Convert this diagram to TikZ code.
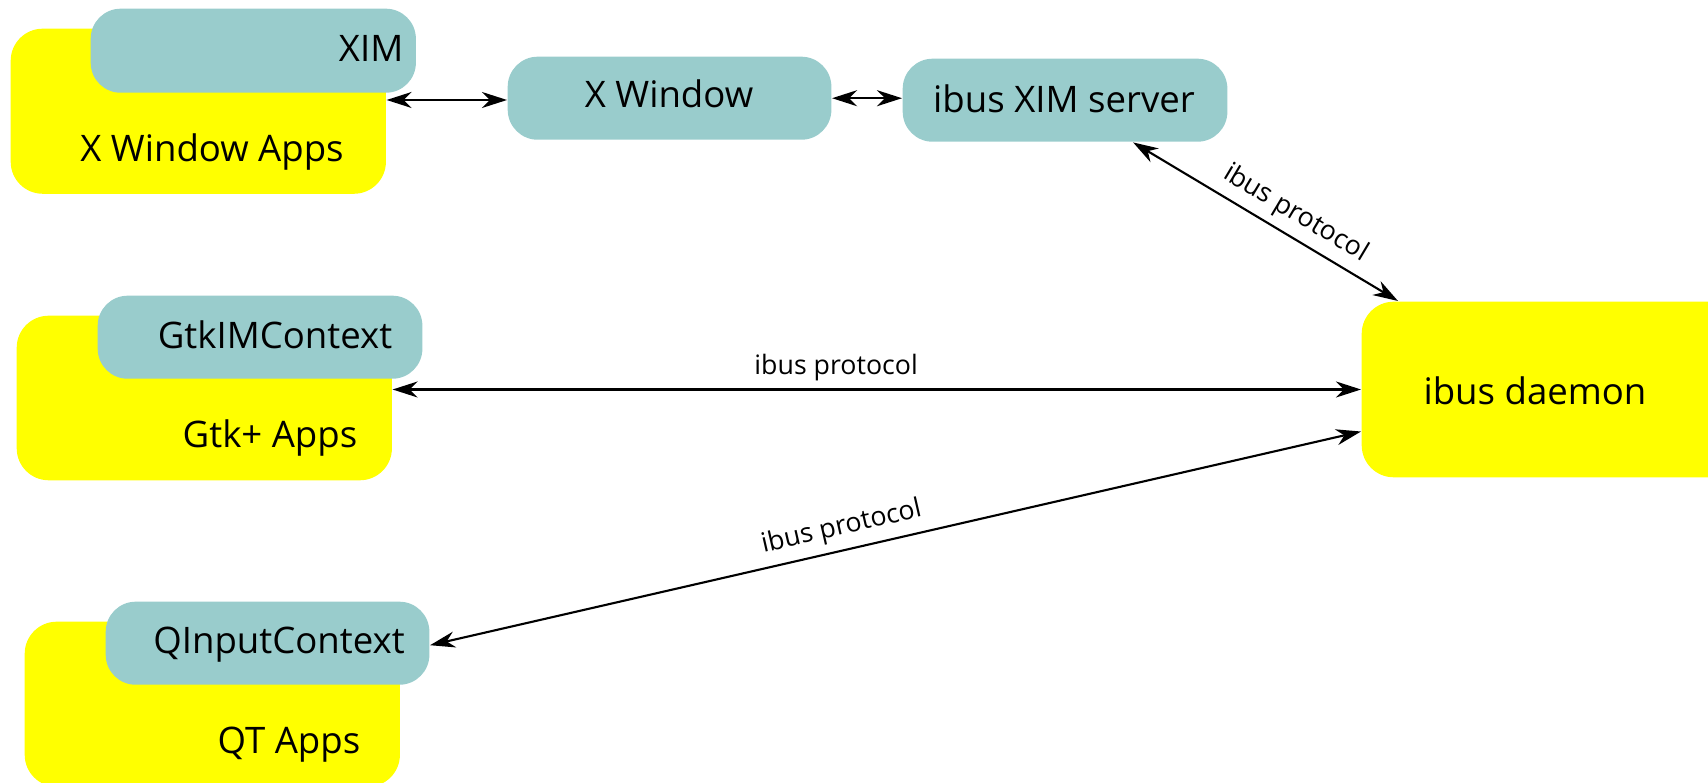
\documentclass[tikz,border=0pt]{standalone}
\usepackage{fontspec}
\setmainfont{Open Sans}
\usetikzlibrary{arrows.meta}
\definecolor{tealc}{RGB}{153,204,204}
\definecolor{yelc}{RGB}{255,255,0}
\tikzset{
  yelbox/.style={fill=yelc, rounded corners=0.32cm, inner sep=0pt, anchor=north west},
  tealbox/.style={fill=tealc, rounded corners=0.30cm, inner sep=0pt, anchor=north west},
  txt/.style={font=\fontsize{10.4}{13}\selectfont, inner sep=0pt},
  lbl/.style={font=\fontsize{7.6}{9}\selectfont, sloped, inner sep=0pt, above=0.08cm},
  conn/.style={{Stealth[length=0.25cm,width=0.16cm,inset=0.08cm]}-{Stealth[length=0.25cm,width=0.16cm,inset=0.08cm]}, line width=0.6pt}
}
\begin{document}
\begin{tikzpicture}[x=0.01cm, y=-0.01cm]
\useasboundingbox (0,0) rectangle (1708,783);
\clip (0,0) rectangle (1708,783);
% X Window Apps
\node[yelbox, minimum width=3.75cm, minimum height=1.65cm] (xapps) at (10,28) {};
\node[tealbox, minimum width=3.25cm, minimum height=0.84cm] (xim) at (90,8) {};
\node[txt, anchor=base east] (ximt) at (404,62) {XIM};
\node[txt, anchor=base] (xappst) at (212,162) {X Window Apps};
% X Window
\node[tealbox, minimum width=3.235cm, minimum height=0.83cm] (xwin) at (507,56) {};
\node[txt, anchor=base] (xwint) at (669,108) {X Window};
% ibus XIM server
\node[tealbox, minimum width=3.245cm, minimum height=0.83cm] (xims) at (902,58) {};
\node[txt, anchor=base] (ximst) at (1064,113) {ibus XIM server};
% Gtk+ Apps
\node[yelbox, minimum width=3.75cm, minimum height=1.645cm] (gtkapps) at (16,315) {};
\node[tealbox, minimum width=3.245cm, minimum height=0.83cm] (gtk) at (97,295) {};
\node[txt, anchor=base] (gtkt) at (275,349) {GtkIMContext};
\node[txt, anchor=base] (gtkappst) at (270,448) {Gtk+ Apps};
% QT Apps
\node[yelbox, minimum width=3.75cm, minimum height=1.65cm] (qtapps) at (24,621) {};
\node[tealbox, minimum width=3.235cm, minimum height=0.83cm] (qt) at (105,601) {};
\node[txt, anchor=base] (qtt) at (279,654) {QInputContext};
\node[txt, anchor=base] (qtappst) at (289,754) {QT Apps};
% ibus daemon
\node[yelbox, minimum width=4.2cm, minimum height=1.755cm] (daemon) at (1361,301) {};
\node[txt, anchor=base] (daemont) at (1535,405) {ibus daemon};
% connectors
\draw[conn] (xapps.east |- 0,100) -- (xwin.west |- 0,100);
\draw[conn] (xwin.east) -- (xims.west |- xwin.east);
\draw[conn] ([xshift=2.31cm]xims.south west) -- node[lbl, pos=0.57] (l1) {ibus protocol} ([xshift=0.37cm]daemon.north west);
\draw[conn] (gtkapps.east |- daemon.west) -- node[lbl, pos=0.458] (l2) {ibus protocol} (daemon.west);
\draw[conn] ([yshift=-0.02cm]qt.east) -- node[lbl, pos=0.4475] (l3) {ibus protocol} ([yshift=-0.42cm]daemon.west);
\end{tikzpicture}
\end{document}
